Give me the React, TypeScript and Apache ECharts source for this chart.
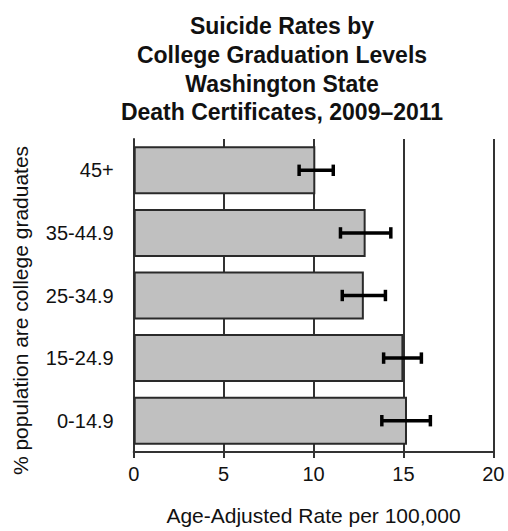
import React, { useEffect, useRef } from "react";
import * as echarts from "echarts";

// Percent of population who are college graduates (top to bottom)
const categories = ["45+", "35-44.9", "25-34.9", "15-24.9", "0-14.9"];
// Age-adjusted suicide rate per 100,000
const rates = [10.1, 12.9, 12.8, 15.0, 15.2];
// 95% confidence limits
const lowerCI = [9.2, 11.5, 11.6, 13.9, 13.8];
const upperCI = [11.1, 14.3, 14.0, 16.0, 16.5];
const xTicks = [0, 5, 10, 15, 20];

const titleLines = [
  "Suicide Rates by",
  "College Graduation Levels",
  "Washington State",
  "Death Certificates, 2009\u20132011",
];

const FONT = "Arial, 'Liberation Sans', sans-serif";

export default function App() {
  const ref = useRef<HTMLDivElement>(null);

  useEffect(() => {
    document.body.style.margin = "0";
    if (!ref.current) return;
    const chart = echarts.init(ref.current, undefined, { renderer: "svg" });

    const errorData = categories.map((_, i) => [lowerCI[i], upperCI[i], i]);

    chart.setOption({
      animation: false,
      backgroundColor: "#ffffff",
      textStyle: { fontFamily: FONT },
      title: {
        text: titleLines.join("\n"),
        left: 277,
        top: 7,
        textAlign: "center",
        textStyle: {
          fontFamily: FONT,
          fontSize: 23,
          fontWeight: "bold",
          lineHeight: 28.7,
          color: "#111111",
        },
      },
      grid: { left: 133.7, right: 14.7, top: 139, bottom: 78.7 },
      xAxis: {
        type: "value",
        min: xTicks[0],
        max: xTicks[xTicks.length - 1],
        interval: 5,
        name: "Age-Adjusted Rate per 100,000",
        nameLocation: "middle",
        nameGap: 53,
        nameTextStyle: { fontFamily: FONT, fontSize: 21, color: "#111111" },
        axisLine: { show: true, lineStyle: { color: "#333333", width: 2 } },
        axisTick: { show: true, length: 6, lineStyle: { color: "#333333", width: 2 } },
        axisLabel: { fontFamily: FONT, fontSize: 20, color: "#111111", margin: 12 },
        splitLine: { show: true, lineStyle: { color: "#333333", width: 2 } },
      },
      yAxis: {
        type: "category",
        data: categories,
        inverse: true,
        axisLine: { show: true, lineStyle: { color: "#333333", width: 2 } },
        axisTick: { show: false },
        axisLabel: { fontFamily: FONT, fontSize: 20, color: "#111111", margin: 20 },
        splitLine: { show: false },
      },
      graphic: [
        {
          type: "text",
          x: 20,
          y: 310.5,
          rotation: Math.PI / 2,
          style: {
            text: "% population are college graduates",
            fontFamily: FONT,
            fontSize: 21,
            fill: "#111111",
            align: "center",
            verticalAlign: "middle",
          },
        },
      ],
      series: [
        {
          type: "bar",
          data: rates,
          barWidth: 48,
          itemStyle: { color: "#c0c0c0", borderColor: "#2a2a2a", borderWidth: 2 },
          z: 2,
        },
        {
          type: "custom",
          data: errorData,
          encode: { x: [0, 1], y: 2 },
          z: 3,
          renderItem: (params: any, api: any) => {
            const idx = api.value(2);
            const lo = api.coord([api.value(0), idx]);
            const hi = api.coord([api.value(1), idx]);
            const half = 5.7;
            const style = { stroke: "#000000", lineWidth: 3.5 };
            return {
              type: "group",
              children: [
                { type: "line", shape: { x1: lo[0], y1: lo[1], x2: hi[0], y2: hi[1] }, style },
                { type: "line", shape: { x1: lo[0], y1: lo[1] - half, x2: lo[0], y2: lo[1] + half }, style },
                { type: "line", shape: { x1: hi[0], y1: hi[1] - half, x2: hi[0], y2: hi[1] + half }, style },
              ],
            };
          },
        },
      ],
    });

    return () => chart.dispose();
  }, []);

  return <div ref={ref} style={{ width: 508, height: 531 }} />;
}
